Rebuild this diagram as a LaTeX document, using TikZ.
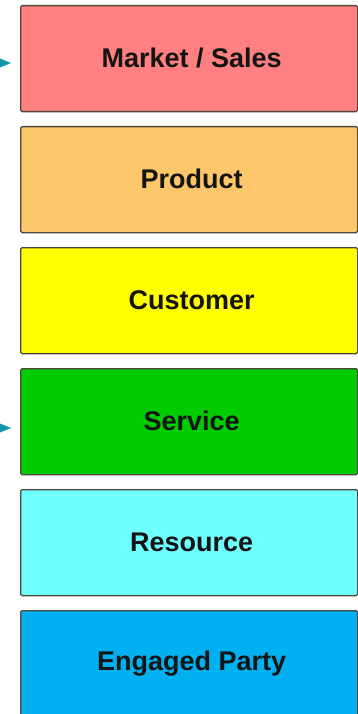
\documentclass[tikz,border=0pt]{standalone}
\usepackage{fontspec}
\setmainfont{Liberation Sans}
\usetikzlibrary{arrows.meta}
\definecolor{cmarket}{RGB}{255,128,128}
\definecolor{cproduct}{RGB}{252,198,106}
\definecolor{ccustomer}{RGB}{255,255,0}
\definecolor{cservice}{RGB}{0,204,0}
\definecolor{cresource}{RGB}{110,255,255}
\definecolor{cparty}{RGB}{0,176,240}
\definecolor{cborder}{RGB}{80,70,60}
\definecolor{carrow}{RGB}{20,150,170}
\tikzset{
  layer/.style={draw=cborder, line width=1.3pt, rounded corners=1.5pt, minimum width=337pt, minimum height=106pt, anchor=north west, inner sep=0pt,
    font=\fontsize{27}{30}\selectfont\bfseries, text=black!92},
}
\newcommand{\wtxt}[1]{\raisebox{1.5pt}{\hspace*{5pt}#1}}
\begin{document}
\begin{tikzpicture}[x=1pt,y=-1pt]
\useasboundingbox (0,0) rectangle (358,714);
\clip (0,0) rectangle (358,714);
\node[layer, fill=cmarket] (market) at (20,5) {\wtxt{Market / Sales}};
\node[layer, fill=cproduct] (product) at (20,126) {\wtxt{Product}};
\node[layer, fill=ccustomer] (customer) at (20,247) {\wtxt{Customer}};
\node[layer, fill=cservice] (service) at (20,368) {\wtxt{Service}};
\node[layer, fill=cresource] (resource) at (20,489) {\wtxt{Resource}};
\node[layer, fill=cparty] (party) at (20,610) {\wtxt{Engaged Party}};
\coordinate (ma) at (0,63);
\coordinate (sa) at (0,428);
\fill[carrow] (ma) ++(0,-4.5) -- ++(11,4.5) -- ++(-11,4.5) -- cycle;
\fill[carrow] (sa) ++(0,-4.5) -- ++(11,4.5) -- ++(-11,4.5) -- cycle;
\end{tikzpicture}
\end{document}
